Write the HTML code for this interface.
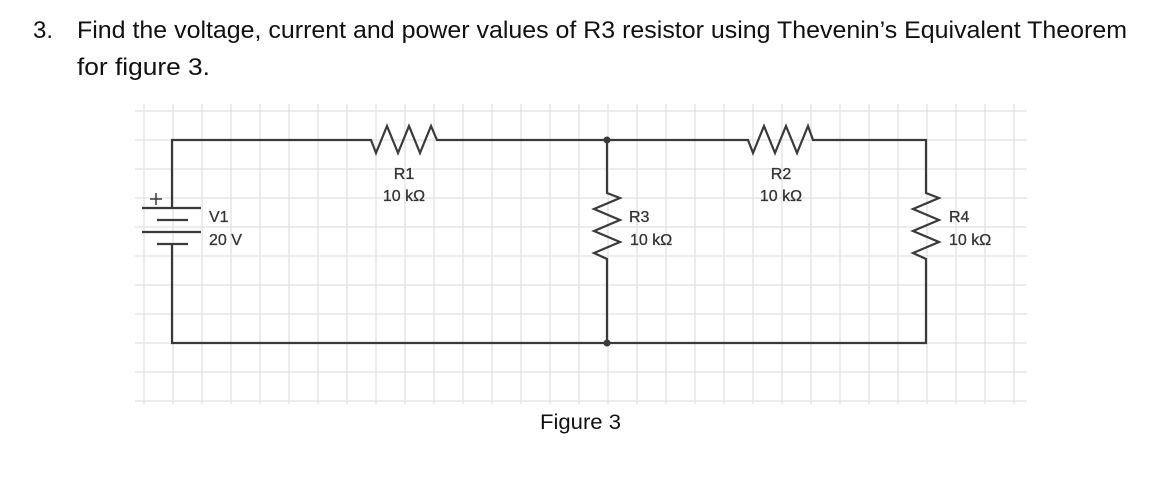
<!DOCTYPE html>
<html><head><meta charset="utf-8"><style>html,body{margin:0;padding:0;background:#fff;}svg{display:block}</style></head>
<body>
<svg width="1151" height="478" viewBox="0 0 1151 478" xmlns="http://www.w3.org/2000/svg">
<rect width="1151" height="478" fill="#fff"/>
<g font-family="Liberation Sans, Arial, sans-serif" fill="#111">
<text x="33" y="38" font-size="24">3.</text>
<text x="77" y="38" font-size="24" textLength="1050" lengthAdjust="spacingAndGlyphs">Find the voltage, current and power values of R3 resistor using Thevenin’s Equivalent Theorem</text>
<text x="77" y="75" font-size="24" textLength="133" lengthAdjust="spacingAndGlyphs">for figure 3.</text>
<text x="540" y="429" font-size="21" textLength="81" lengthAdjust="spacingAndGlyphs">Figure 3</text>
</g>
<g stroke="#e2e2e2" stroke-width="1.3">
<line x1="144" y1="104" x2="144" y2="404"/><line x1="173" y1="104" x2="173" y2="404"/><line x1="202" y1="104" x2="202" y2="404"/><line x1="231" y1="104" x2="231" y2="404"/><line x1="260" y1="104" x2="260" y2="404"/><line x1="289" y1="104" x2="289" y2="404"/><line x1="318" y1="104" x2="318" y2="404"/><line x1="347" y1="104" x2="347" y2="404"/><line x1="376" y1="104" x2="376" y2="404"/><line x1="405" y1="104" x2="405" y2="404"/><line x1="434" y1="104" x2="434" y2="404"/><line x1="463" y1="104" x2="463" y2="404"/><line x1="492" y1="104" x2="492" y2="404"/><line x1="521" y1="104" x2="521" y2="404"/><line x1="550" y1="104" x2="550" y2="404"/><line x1="579" y1="104" x2="579" y2="404"/><line x1="608" y1="104" x2="608" y2="404"/><line x1="637" y1="104" x2="637" y2="404"/><line x1="666" y1="104" x2="666" y2="404"/><line x1="695" y1="104" x2="695" y2="404"/><line x1="724" y1="104" x2="724" y2="404"/><line x1="753" y1="104" x2="753" y2="404"/><line x1="782" y1="104" x2="782" y2="404"/><line x1="811" y1="104" x2="811" y2="404"/><line x1="840" y1="104" x2="840" y2="404"/><line x1="869" y1="104" x2="869" y2="404"/><line x1="898" y1="104" x2="898" y2="404"/><line x1="927" y1="104" x2="927" y2="404"/><line x1="956" y1="104" x2="956" y2="404"/><line x1="985" y1="104" x2="985" y2="404"/><line x1="1014" y1="104" x2="1014" y2="404"/>
<line x1="135" y1="111" x2="1027" y2="111"/><line x1="135" y1="140" x2="1027" y2="140"/><line x1="135" y1="169" x2="1027" y2="169"/><line x1="135" y1="198" x2="1027" y2="198"/><line x1="135" y1="227" x2="1027" y2="227"/><line x1="135" y1="256" x2="1027" y2="256"/><line x1="135" y1="285" x2="1027" y2="285"/><line x1="135" y1="314" x2="1027" y2="314"/><line x1="135" y1="343" x2="1027" y2="343"/><line x1="135" y1="372" x2="1027" y2="372"/><line x1="135" y1="401" x2="1027" y2="401"/>
</g>
<g stroke="#3a3a3a" stroke-width="2.2" fill="none" stroke-linejoin="miter">
<polyline points="172,208 172,140 371,140 376,153 387,126 398,153 409,126 420,153 431,126 437,140 607,140 748,140 753,153 764,126 775,153 786,126 797,153 808,126 813,140 926,140 926,193 939,198 913,209 939,220 913,231 939,242 913,253 926,259 926,343 172,343 172,244"/>
<polyline points="607,140 607,193 620,198 594,209 620,220 594,231 620,242 594,253 607,259 607,343"/>
<line x1="142" y1="208" x2="201" y2="208"/>
<line x1="157" y1="220" x2="188" y2="220"/>
<line x1="142" y1="232" x2="201" y2="232"/>
<line x1="157" y1="244" x2="188" y2="244"/>
<line x1="150" y1="199" x2="162" y2="199" stroke-width="1.5"/>
<line x1="156" y1="193" x2="156" y2="205" stroke-width="1.5"/>
</g>
<circle cx="607" cy="140" r="3.5" fill="#3a3a3a"/>
<circle cx="607" cy="343" r="3.5" fill="#3a3a3a"/>
<g font-family="Liberation Sans, Arial, sans-serif" font-size="16" fill="#333" stroke="#333" stroke-width="0.3">
<text x="404" y="179" text-anchor="middle">R1</text>
<text x="404" y="201" text-anchor="middle">10 kΩ</text>
<text x="781" y="179" text-anchor="middle">R2</text>
<text x="781" y="201" text-anchor="middle">10 kΩ</text>
<text x="209" y="222">V1</text>
<text x="209" y="245">20 V</text>
<text x="629" y="222">R3</text>
<text x="630" y="245">10 kΩ</text>
<text x="949" y="222">R4</text>
<text x="949" y="245">10 kΩ</text>
</g>
</svg>
</body></html>
